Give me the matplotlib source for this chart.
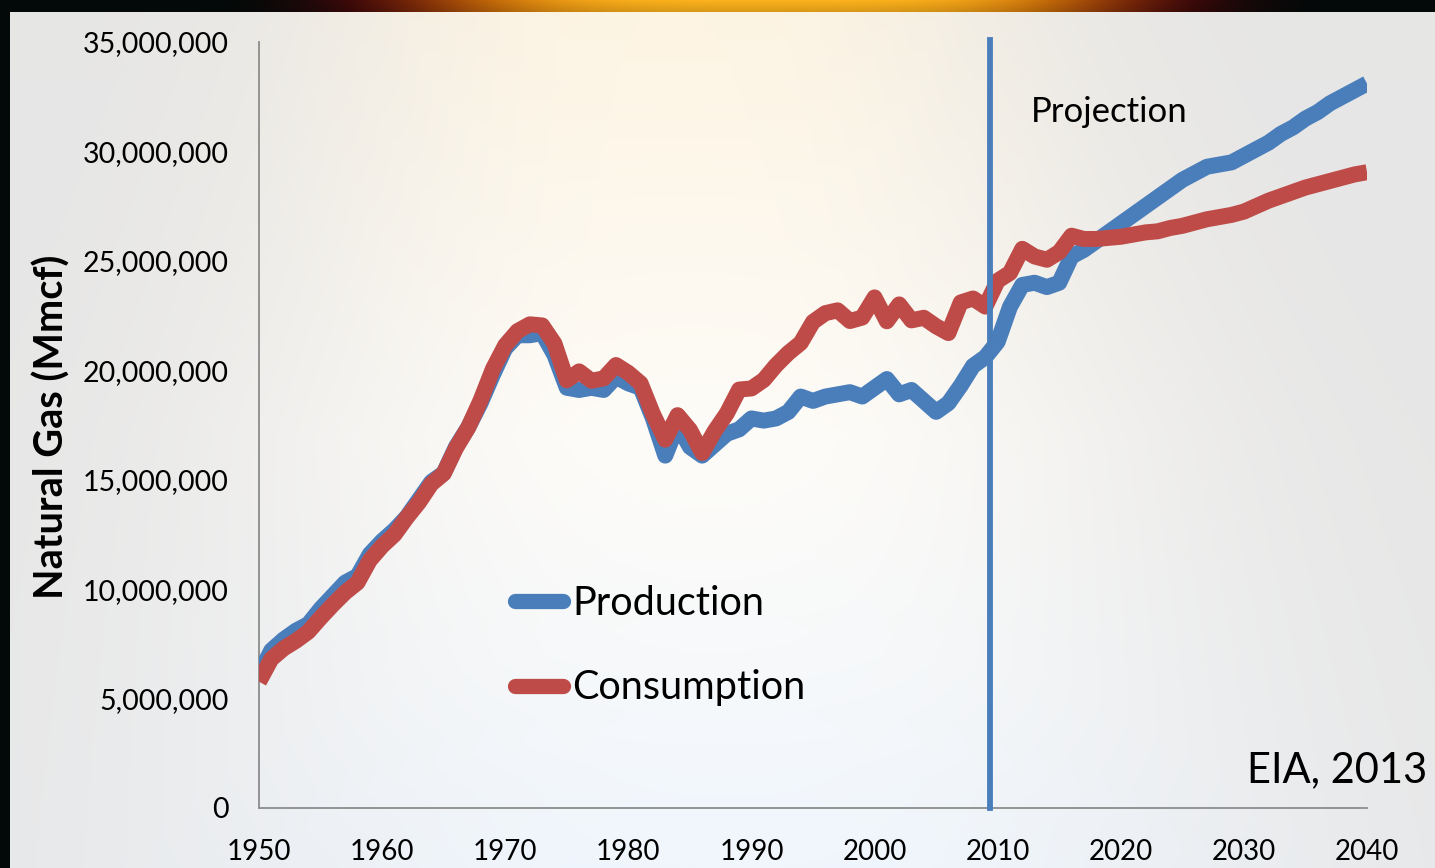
import numpy as np
import matplotlib
matplotlib.use("Agg")
import matplotlib.pyplot as plt
from matplotlib.lines import Line2D

# ---------------- data ----------------
years = list(range(1950, 2041))

production = [
    6.1, 7.2, 7.7, 8.1, 8.4, 9.1, 9.7, 10.3, 10.6, 11.6,
    12.2, 12.7, 13.3, 14.1, 14.9, 15.3, 16.5, 17.4, 18.5, 19.8,
    21.0, 21.6, 21.6, 21.7, 20.7, 19.2, 19.1, 19.2, 19.1, 19.7,
    19.4, 19.2, 17.8, 16.1, 17.5, 16.5, 16.1, 16.6, 17.1, 17.3,
    17.8, 17.7, 17.8, 18.1, 18.8, 18.6, 18.8, 18.9, 19.0, 18.8,
    19.2, 19.6, 18.9, 19.1, 18.6, 18.1, 18.5, 19.3, 20.2, 20.6,
    21.3, 22.9, 23.9, 24.0, 23.8, 24.0, 25.2, 25.5, 25.9, 26.3,
    26.7, 27.1, 27.5, 27.9, 28.3, 28.7, 29.0, 29.3, 29.4, 29.5,
    29.8, 30.1, 30.4, 30.8, 31.1, 31.5, 31.8, 32.2, 32.5, 32.8,
    33.1,
]
consumption = [
    5.77, 6.81, 7.29, 7.64, 8.05, 8.69, 9.29, 9.85, 10.30, 11.32,
    11.97, 12.49, 13.27, 13.97, 14.81, 15.28, 16.45, 17.39, 18.63, 20.06,
    21.14, 21.79, 22.10, 22.05, 21.22, 19.54, 19.95, 19.52, 19.63, 20.24,
    19.88, 19.40, 18.00, 16.83, 17.95, 17.28, 16.22, 17.21, 18.03, 19.12,
    19.17, 19.56, 20.23, 20.79, 21.25, 22.21, 22.61, 22.74, 22.25, 22.41,
    23.33, 22.24, 23.01, 22.28, 22.40, 22.01, 21.70, 23.10, 23.28, 22.91,
    24.09, 24.45, 25.55, 25.20, 25.05, 25.40, 26.15, 26.00, 26.00, 26.05,
    26.10, 26.20, 26.30, 26.35, 26.50, 26.60, 26.75, 26.90, 27.00, 27.10,
    27.25, 27.50, 27.75, 27.95, 28.15, 28.35, 28.50, 28.65, 28.80, 28.95,
    29.05,
]
production = [v * 1e6 for v in production]
consumption = [v * 1e6 for v in consumption]

x_ticks = [1950, 1960, 1970, 1980, 1990, 2000, 2010, 2020, 2030, 2040]
y_ticks = [0, 5e6, 10e6, 15e6, 20e6, 25e6, 30e6, 35e6]
projection_start = 2009.4

BLUE = "#4a7ebb"
RED = "#be4b48"
FONT = "Lato"

W, H = 1435, 868
fig = plt.figure(figsize=(W / 100, H / 100), dpi=100)

# ---------------- background ----------------
yy, xx = np.mgrid[0:H, 0:W].astype(float)
t = yy / H
gray = np.array([230, 230, 230], float)
top_c = np.array([253, 244, 226], float)
mid_c = np.array([254, 252, 248], float)
bot_c = np.array([240, 246, 253], float)
tt = t[..., None]
light = np.where(tt < 0.5,
                 top_c * (1 - tt / 0.5) + mid_c * (tt / 0.5),
                 mid_c * (1 - (tt - 0.5) / 0.5) + bot_c * ((tt - 0.5) / 0.5))
cx = 670 + 60 * t
hw = 360 + 210 * t
wgt = np.exp(-np.abs((xx - cx) / hw) ** 2.6)
img = gray * (1 - wgt[..., None]) + light * wgt[..., None]
# black frame
img[:12, :, :] = [3, 8, 8]
img[:, :10, :] = [3, 8, 8]
# orange glow in top band
xs = np.arange(W)
g = np.exp(-((xs - 770) / 340.0) ** 4)
orange = np.stack([252 * g ** 0.6, 178 * g ** 1.2, 28 * g ** 2.5], axis=1)
for r in range(12):
    f = 1.0 - 0.15 * (r / 12)
    img[r] = np.maximum(img[r], orange * f)
bg = fig.add_axes([0, 0, 1, 1])
bg.imshow(img.clip(0, 255).astype(np.uint8), aspect="auto", extent=[0, W, H, 0])
bg.axis("off")

# ---------------- main axes ----------------
ax = fig.add_axes([259 / W, 1 - 808 / H, (1367 - 259) / W, (808 - 42) / H])
ax.set_facecolor("none")
ax.plot(years, production, color=BLUE, lw=11.5, solid_joinstyle="round",
        solid_capstyle="butt", zorder=3)
ax.plot(years, consumption, color=RED, lw=11.5, solid_joinstyle="round",
        solid_capstyle="butt", zorder=4)
ax.axvline(projection_start, color=BLUE, lw=4.2, zorder=5, ymax=1.003,
           clip_on=False)

ax.set_xlim(1950, 2040)
ax.set_ylim(0, 35e6)
ax.set_xticks(x_ticks)
ax.set_yticks(y_ticks)
ax.set_xticklabels([str(v) for v in x_ticks], fontsize=20, family=FONT)
ax.set_yticklabels([f"{int(v):,}" for v in y_ticks], fontsize=20.5, family=FONT)
ax.tick_params(length=0, colors="black")
ax.tick_params(axis="x", pad=22)
ax.tick_params(axis="y", pad=22)
for s in ["top", "right"]:
    ax.spines[s].set_visible(False)
for s in ["left", "bottom"]:
    ax.spines[s].set_color("#8c8c8c")
    ax.spines[s].set_linewidth(1.3)

fig.text(52 / W, 1 - 427 / H, "Natural Gas (Mmcf)", rotation=90,
         fontsize=28.5, fontweight="bold", family=FONT, ha="center", va="center")

fig.text(1031 / W, 1 - 112 / H, "Projection", fontsize=25, family=FONT,
         ha="left", va="center")
fig.text(1427 / W, 1 - 770 / H, "EIA, 2013", fontsize=30, family=FONT,
         ha="right", va="center")

handles = [Line2D([], [], color=BLUE, lw=11, solid_capstyle="round"),
           Line2D([], [], color=RED, lw=11, solid_capstyle="round")]
leg = ax.legend(handles, ["Production", "Consumption"], loc="upper left",
                bbox_to_anchor=(515 / W, 1 - 585 / H),
                bbox_transform=fig.transFigure, frameon=False,
                prop={"family": FONT, "size": 28.5}, handlelength=1.2,
                handletextpad=0.25, labelspacing=1.2, borderpad=0,
                borderaxespad=0)

fig.savefig("out.png", dpi=100)
